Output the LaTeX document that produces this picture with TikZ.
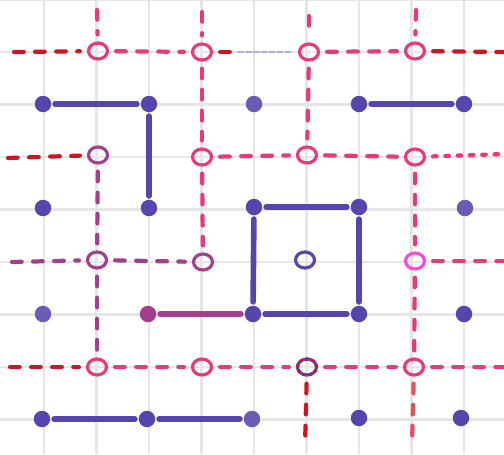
\documentclass[tikz,border=0pt]{standalone}
\usetikzlibrary{shapes.geometric}

\definecolor{dotblue}{RGB}{84,70,174}
\definecolor{paleblue}{RGB}{106,92,182}
\definecolor{dualpink}{RGB}{234,56,122}
\definecolor{dualred}{RGB}{204,22,34}
\definecolor{dualplum}{RGB}{166,62,142}
\definecolor{dualmag}{RGB}{255,72,215}
\definecolor{lightred}{RGB}{232,80,96}
\definecolor{faint}{RGB}{178,168,226}
\definecolor{gridgray}{RGB}{230,230,230}

\begin{document}
\begin{tikzpicture}[x=0.02cm, y=-0.02cm,
  dot/.style={circle, fill=dotblue, inner sep=0pt, minimum size=0.33cm},
  dual/.style={ellipse, draw=dualpink, line width=1.8pt, inner sep=0pt,
    minimum width=0.38cm, minimum height=0.32cm},
  bond/.style={dotblue, line width=3.2pt, line cap=round, shorten <=2pt, shorten >=2pt},
  cut/.style={dualpink, line width=2.4pt, line cap=round,
    dash pattern=on 5.5pt off 6.5pt, shorten <=4pt, shorten >=4pt}]
\useasboundingbox (0,0) rectangle (504,454);

% squared paper
\foreach \x in {-8.5,44,...,504}
  \draw[gridgray, line width=1.5pt] (\x,0) -- (\x,454);
\foreach \y in {-0.5,52,...,454}
  \draw[gridgray, line width=1.5pt] (0,\y) -- (504,\y);

% lattice sites
\node[dot] (1) at (43,104) {};
\node[dot] (2) at (149,104) {};
\node[dot, fill=paleblue] (3) at (254,104) {};
\node[dot] (4) at (359,104) {};
\node[dot] (5) at (464,104) {};
\node[dot] (6) at (43,208) {};
\node[dot] (7) at (149,208) {};
\node[dot] (8) at (254,207) {};
\node[dot] (9) at (359,207) {};
\node[dot, fill=paleblue] (10) at (465,208) {};
\node[dot, fill=paleblue] (11) at (43,314) {};
\node[dot, fill=dualplum] (12) at (148,314) {};
\node[dot] (13) at (253,314) {};
\node[dot] (14) at (359,314) {};
\node[dot] (15) at (464,314) {};
\node[dot] (16) at (42,419) {};
\node[dot] (17) at (147,419) {};
\node[dot, fill=paleblue] (18) at (252,419) {};
\node[dot] (19) at (359,418) {};
\node[dot] (20) at (461,418) {};

% dual sites
\node[dual] (21) at (98,51) {};
\node[dual] (22) at (202,52) {};
\node[dual] (23) at (309,52) {};
\node[dual] (24) at (415,51) {};
\node[dual, draw=dualplum] (25) at (98,155) {};
\node[dual] (26) at (202,157) {};
\node[dual] (27) at (307,155) {};
\node[dual] (28) at (415,157) {};
\node[dual, draw=dualplum] (29) at (97,260) {};
\node[dual, draw=dualplum] (30) at (203,262) {};
\node[dual, draw=dotblue] (31) at (305,260) {};
\node[dual, draw=dualmag] (32) at (415,261) {};
\node[dual] (33) at (97,367) {};
\node[dual] (34) at (202,367) {};
\node[dual, draw=dotblue, postaction={draw=dualred, dash pattern=on 1.5pt off 2pt}] (35) at (307,367) {};
\node[dual] (36) at (414,367) {};

% loose ends at the paper edge
\coordinate (t21) at (97,10);
\coordinate (t22) at (202,12);
\coordinate (t23) at (309,16);
\coordinate (t24) at (416,10);
\coordinate (l21) at (14,52);
\coordinate (l25) at (8,158);
\coordinate (l29) at (12,262);
\coordinate (l33) at (10,367);
\coordinate (r24) at (504,52);
\coordinate (r28) at (504,154);
\coordinate (r32) at (504,261);
\coordinate (r36) at (504,367);
\coordinate (b35) at (305,446);
\coordinate (b36) at (412,446);
\coordinate (m22) at (238,52);

% string
\draw[bond] (1) -- (2);
\draw[bond] (2) -- (7);
\draw[bond] (4) -- (5);
\draw[bond] (8) -- (9);
\draw[bond] (8) -- (13);
\draw[bond] (9) -- (14);
\draw[bond] (13) -- (14);
\draw[bond, dualplum] (12) -- (13);
\draw[bond] (16) -- (17);
\draw[bond] (17) -- (18);

% dual bonds
\draw[cut, dualred, shorten <=0pt] (l21) -- (21);
\draw[cut] (21) -- (22);
\draw[cut, dualred, shorten >=0pt] (22) -- (m22);
\draw[cut, faint, line width=1pt, dash pattern=on 3pt off 1.5pt, shorten <=0pt] (m22) -- (23);
\draw[cut] (23) -- (24);
\draw[cut, dualred, shorten >=0pt] (24) -- (r24);
\draw[cut, shorten <=0pt] (t21) -- (21);
\draw[cut, shorten <=0pt] (t22) -- (22);
\draw[cut, shorten <=0pt] (t23) -- (23);
\draw[cut, shorten <=0pt] (t24) -- (24);
\draw[cut] (22) -- (26);
\draw[cut] (23) -- (27);
\draw[cut, dualred, shorten <=0pt] (l25) -- (25);
\draw[cut] (26) -- (27);
\draw[cut] (27) -- (28);
\draw[cut, dash pattern=on 2pt off 5pt, shorten >=0pt] (28) -- (r28);
\draw[cut, dualplum] (25) -- (29);
\draw[cut] (26) -- (30);
\draw[cut] (28) -- (32);
\draw[cut, dualplum, shorten <=0pt] (l29) -- (29);
\draw[cut, dualplum] (29) -- (30);
\draw[cut, shorten >=0pt] (32) -- (r32);
\draw[cut, dualplum] (29) -- (33);
\draw[cut] (32) -- (36);
\draw[cut, dualred, shorten <=0pt] (l33) -- (33);
\draw[cut] (33) -- (34);
\draw[cut] (34) -- (35);
\draw[cut] (35) -- (36);
\draw[cut, shorten >=0pt] (36) -- (r36);
\draw[cut, dualred, shorten >=0pt] (35) -- (b35);
\draw[cut, lightred, shorten >=0pt] (36) -- (b36);
\end{tikzpicture}
\end{document}
